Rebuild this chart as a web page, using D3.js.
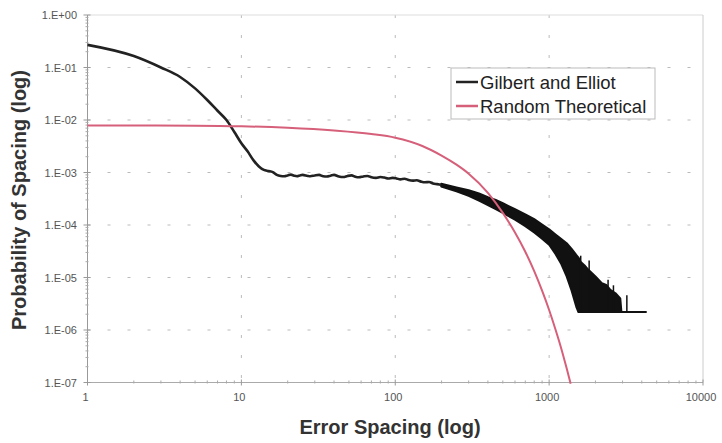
<!DOCTYPE html>
<html>
<head>
<meta charset="utf-8">
<script src="https://cdn.jsdelivr.net/npm/d3@7"></script>
<style>
  body { margin: 0; background: #fff; }
  svg { font-family: "Liberation Sans", Arial, sans-serif; }
  .tick-label { font-size: 11px; fill: #555; }
  .axis-title { font-size: 20px; font-weight: bold; fill: #333; }
  .legend-text { font-size: 18.5px; fill: #222; }
</style>
</head>
<body>
<svg id="chart" width="722" height="443"></svg>
<script>
// tick values and labels
const xTicks = [1, 10, 100, 1000, 10000]
const xTickLabels = ["1", "10", "100", "1000", "10000"]
const yTicks = [1, 1e-1, 1e-2, 1e-3, 1e-4, 1e-5, 1e-6, 1e-7]
const yTickLabels = ["1.E+00", "1.E-01", "1.E-02", "1.E-03", "1.E-04", "1.E-05", "1.E-06", "1.E-07"]

// Gilbert and Elliot, clean part (spacing, probability)
const geX = [1, 2, 3, 4, 5, 6, 7, 8, 9, 10, 11, 12, 13, 14, 15, 16, 17, 18, 19, 20,
  21, 22, 23, 24, 25, 27, 28, 30, 32, 34, 36, 38, 40, 43, 46, 49, 52, 55, 58, 62,
  66, 70, 75, 80, 85, 90, 96, 102, 108, 115, 122, 130, 138, 147, 156, 166, 176, 187, 199]
const geP = [0.27, 0.165, 0.10, 0.066, 0.040, 0.024, 0.015, 0.0100, 0.0059, 0.0036,
  0.0025, 0.0017, 0.0013, 0.00112, 0.00107, 0.00102, 0.00090, 0.00086, 0.00085, 0.00088,
  0.00091, 0.00087, 0.00085, 0.00088, 0.00090, 0.00086, 0.00085, 0.00088, 0.00090, 0.00085,
  0.00084, 0.00087, 0.00090, 0.00084, 0.00082, 0.00086, 0.00088, 0.00083, 0.00081, 0.00084,
  0.00086, 0.00081, 0.00079, 0.00082, 0.00080, 0.00077, 0.00079, 0.00077, 0.00074, 0.00076,
  0.00072, 0.00070, 0.00071, 0.00067, 0.00065, 0.00066, 0.00062, 0.00060, 0.00058]

// Gilbert and Elliot, noisy tail as an envelope (spacing, upper, lower)
const bandX = [199, 250, 300, 350, 400, 450, 500, 600, 700, 800, 900, 1000, 1100, 1200, 1300,
  1400, 1500, 1550, 1600, 1700, 1800, 2000, 2200, 2350, 2500, 2700, 2900, 2950, 4260]
const bandHi = [6.1e-4, 5.2e-4, 4.6e-4, 4.0e-4, 3.4e-4, 3.0e-4, 2.6e-4, 2.0e-4, 1.6e-4, 1.29e-4,
  1.02e-4, 8.3e-5, 6.6e-5, 5.4e-5, 4.5e-5, 3.5e-5, 2.7e-5, 2.4e-5, 2.0e-5, 1.7e-5,
  1.4e-5, 1.05e-5, 7.8e-6, 7.2e-6, 5.8e-6, 5.0e-6, 4.0e-6, 2.2e-6, 2.2e-6]
const bandLo = [5.4e-4, 4.4e-4, 3.6e-4, 2.9e-4, 2.4e-4, 2.0e-4, 1.7e-4, 1.26e-4, 9.5e-5, 7.2e-5,
  5.5e-5, 4.2e-5, 2.8e-5, 1.8e-5, 1.05e-5, 5.6e-6, 2.8e-6, 2.2e-6, 2.2e-6, 2.2e-6,
  2.2e-6, 2.2e-6, 2.2e-6, 2.2e-6, 2.2e-6, 2.2e-6, 2.2e-6, 2.2e-6, 2.2e-6]
const spikeX = [1604, 1820, 2416, 2618, 3200]
const spikeP = [2.6e-5, 2.1e-5, 9.1e-6, 7.1e-6, 4.6e-6]
const floorP = 2.2e-6

// Random Theoretical
const rtX = [1, 5, 10, 20, 40, 70, 100, 150, 200, 250, 300, 400, 500, 600, 700, 800, 900,
  1000, 1100, 1200, 1300, 1380]
const rtP = [7.9e-3, 7.8e-3, 7.6e-3, 7.1e-3, 6.3e-3, 5.4e-3, 4.6e-3, 3.2e-3, 2.1e-3, 1.41e-3,
  9.5e-4, 4.1e-4, 1.7e-4, 7.2e-5, 3.1e-5, 1.32e-5, 5.6e-6, 2.4e-6, 1.02e-6, 4.4e-7, 1.86e-7, 9.5e-8]

const seriesNames = ["Gilbert and Elliot", "Random Theoretical"]
const seriesColors = ["#222", "#d65f7a"]

const svg = d3.select("#chart")
const x = d3.scaleLog().domain([1, 10000]).range([87.5, 703])
const y = d3.scaleLog().domain([1e-7, 1]).range([382.5, 15])

const plot = svg.append("g")

// grid
plot.selectAll(".hgrid").data(yTicks.slice(1, -1)).enter()
  .append("line")
    .attr("x1", x(1)).attr("x2", x(10000))
    .attr("y1", d => y(d)).attr("y2", d => y(d))
    .attr("stroke", "#bbb").attr("stroke-dasharray", "3,17")

plot.selectAll(".vgrid").data(xTicks.slice(1, -1)).enter()
  .append("line")
    .attr("y1", y(1)).attr("y2", y(1e-7))
    .attr("x1", d => x(d)).attr("x2", d => x(d))
    .attr("stroke", "#bbb").attr("stroke-dasharray", "3,17")

// frame
plot.append("line").attr("x1", x(1)).attr("x2", x(10000)).attr("y1", y(1)).attr("y2", y(1))
  .attr("stroke", "#ddd")
plot.append("line").attr("x1", x(10000)).attr("x2", x(10000)).attr("y1", y(1)).attr("y2", y(1e-7))
  .attr("stroke", "#ccc")
plot.append("line").attr("x1", x(1)).attr("x2", x(1)).attr("y1", y(1)).attr("y2", y(1e-7))
  .attr("stroke", "#999")
plot.append("line").attr("x1", x(1)).attr("x2", x(10000)).attr("y1", y(1e-7)).attr("y2", y(1e-7))
  .attr("stroke", "#aaa")

// minor ticks
const minorX = []
xTicks.slice(0, -1).forEach(t => { for (let k = 2; k < 10; k++) minorX.push(t * k) })
const minorY = []
yTicks.slice(1).forEach(t => { for (let k = 2; k < 10; k++) minorY.push(t * k) })

plot.selectAll(".mx").data(minorX).enter().append("line")
  .attr("x1", d => x(d)).attr("x2", d => x(d))
  .attr("y1", y(1e-7) - 2).attr("y2", y(1e-7) + 1)
  .attr("stroke", "#aaa")
plot.selectAll(".my").data(minorY).enter().append("line")
  .attr("y1", d => y(d)).attr("y2", d => y(d))
  .attr("x1", x(1) - 2).attr("x2", x(1) + 1)
  .attr("stroke", "#aaa")
plot.selectAll(".Mx").data(xTicks).enter().append("line")
  .attr("x1", d => x(d)).attr("x2", d => x(d))
  .attr("y1", y(1e-7) - 3).attr("y2", y(1e-7) + 3)
  .attr("stroke", "#999")
plot.selectAll(".My").data(yTicks).enter().append("line")
  .attr("y1", d => y(d)).attr("y2", d => y(d))
  .attr("x1", x(1) - 4).attr("x2", x(1) + 3)
  .attr("stroke", "#999")

// tick labels
svg.selectAll(".xl").data(xTicks).enter().append("text")
  .attr("class", "tick-label")
  .attr("x", d => x(d) - 2).attr("y", 401)
  .attr("text-anchor", "middle")
  .text((d, i) => xTickLabels[i])
svg.selectAll(".yl").data(yTicks).enter().append("text")
  .attr("class", "tick-label")
  .attr("x", 77).attr("y", d => y(d) + 4)
  .attr("text-anchor", "end")
  .text((d, i) => yTickLabels[i])

// axis titles
svg.append("text").attr("class", "axis-title")
  .attr("x", 390).attr("y", 434).attr("text-anchor", "middle")
  .text("Error Spacing (log)")
svg.append("text").attr("class", "axis-title")
  .attr("transform", "translate(26,200) rotate(-90)").attr("text-anchor", "middle")
  .text("Probability of Spacing (log)")

// Gilbert and Elliot noisy envelope
const band = bandX.map((v, i) => ({ x: v, hi: bandHi[i], lo: bandLo[i] }))
plot.append("path")
  .datum(band)
  .attr("d", d3.area().x(d => x(d.x)).y0(d => y(d.lo)).y1(d => y(d.hi)))
  .attr("fill", "#111")
  .attr("stroke", "#111")
  .attr("stroke-width", 2)
  .attr("stroke-linejoin", "round")

plot.selectAll(".spike").data(spikeX).enter().append("line")
  .attr("x1", d => x(d)).attr("x2", d => x(d))
  .attr("y1", y(floorP)).attr("y2", (d, i) => y(spikeP[i]))
  .attr("stroke", "#111").attr("stroke-width", 1.5)

// Gilbert and Elliot line
const line = d3.line().x(d => x(d[0])).y(d => y(d[1])).curve(d3.curveMonotoneX)
plot.append("path")
  .datum(geX.map((v, i) => [v, geP[i]]))
  .attr("d", line)
  .attr("fill", "none")
  .attr("stroke", seriesColors[0])
  .attr("stroke-width", 2.6)
  .attr("stroke-linejoin", "round")

// Random Theoretical
plot.append("path")
  .datum(rtX.map((v, i) => [v, rtP[i]]))
  .attr("d", line)
  .attr("fill", "none")
  .attr("stroke", seriesColors[1])
  .attr("stroke-width", 2)

// legend
const legend = svg.append("g").attr("transform", "translate(451,68)")
legend.append("rect").attr("width", 204).attr("height", 51)
  .attr("fill", "#fff").attr("stroke", "#bbb")
seriesNames.forEach((name, i) => {
  const ly = 14 + i * 24
  legend.append("line").attr("x1", 5).attr("x2", 27).attr("y1", ly).attr("y2", ly)
    .attr("stroke", seriesColors[i]).attr("stroke-width", 2.5)
  legend.append("text").attr("class", "legend-text")
    .attr("x", 29).attr("y", ly + 6.5).text(name)
})
</script>
</body>
</html>
